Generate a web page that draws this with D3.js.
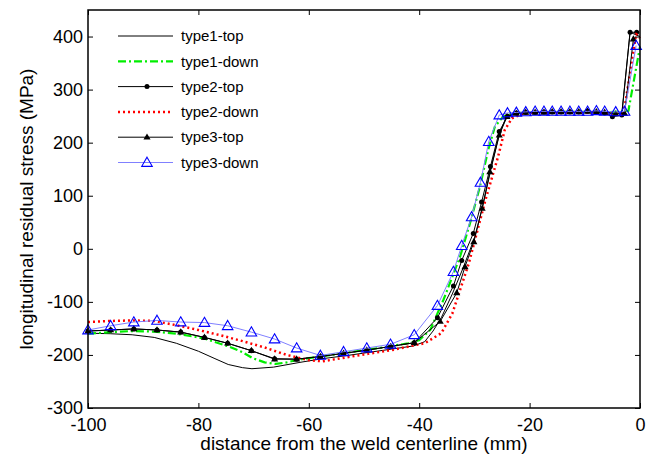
<!DOCTYPE html>
<html><head><meta charset="utf-8">
<script src="https://cdn.jsdelivr.net/npm/d3@7"></script>
<style>body{margin:0;background:#fff}svg{display:block}text{font-family:"Liberation Sans",Arial,Helvetica,sans-serif;fill:#000}</style>
</head><body><svg id="c" width="649" height="457"></svg>
<script>
const xTicks=[-100,-80,-60,-40,-20,0];
const yTicks=[-300,-200,-100,0,100,200,300,400];
const seriesNames=["type1-top","type1-down","type2-top","type2-down","type3-top","type3-down"];

const type1TopX=[-100,-96,-92,-88,-84,-80,-77,-74.6,-72,-70.3,-66.4,-61.6,-57.5,-53,-49,-45,-41,-39,-37.5,-36,-34,-32,-30,-28.5,-27,-25.5,-24.3,-23,-20,-15,-10,-6,-3.3,-1.8,0];
const type1TopY=[-159,-160,-162,-167,-178,-193,-207,-218,-224,-226,-223,-214,-207,-201,-195,-189,-183,-175,-155,-130,-85,-35,20,80,150,215,247,255,257,258,258,257,255,408,400];

const type1DownX=[-100,-96,-92,-88,-84,-80,-78.7,-74.5,-72,-70.2,-68,-66,-64,-61.9,-58,-54,-50,-46,-42,-40,-38,-35.6,-32.6,-30.8,-29,-27.5,-26.3,-24.8,-23,-20,-15,-10,-6,-2.1,0];
const type1DownY=[-160,-157,-155,-156,-160,-167,-170,-184,-195,-206,-214,-217,-214,-209,-203,-197,-191,-185,-178,-172,-153,-96,-15,48,117,186,230,249,255,257,258,258,257,260,381];

const type2TopX=[-100,-95.9,-91.7,-87.5,-83.2,-78.9,-74.7,-70.4,-66.2,-62.2,-57.9,-53.7,-49.5,-45.2,-40.9,-36.7,-33.8,-32.3,-30.2,-28.7,-27.1,-25.5,-24.0,-22.4,-20.7,-19.0,-17.4,-15.9,-14.3,-12.7,-11.1,-9.5,-7.9,-6.4,-5.0,-3.3,-1.8,-0.6];
const type2TopY=[-155,-153,-151,-153,-157,-167,-178,-192,-207,-208,-203,-197,-191,-184,-177,-130,-70,-22,29,88,155,221,250,256,257,257,258,258,258,258,258,259,258,256,249,252,408,408];

const type2DownX=[-100,-96,-92,-88,-84,-80,-76,-72,-68,-64,-60,-57.5,-54,-50,-45,-41,-39,-36,-34,-31,-28,-25.7,-24.5,-23.2,-21,-15,-10,-6,-4,-3.0,-0.7,0];
const type2DownY=[-138,-136,-135,-136,-144,-153,-163,-174,-186,-200,-210,-212,-206,-199,-191,-182,-178,-159,-122,-27,92,174,224,246,256,257,257,256,255,252,405,397];

const type3TopX=[-100,-95.9,-91.7,-87.5,-83.2,-78.9,-74.7,-70.4,-66.2,-62.2,-57.9,-53.7,-49.5,-45.2,-40.9,-36.2,-33.2,-31.7,-30.1,-28.6,-27.2,-25.5,-24.1,-22.4,-20.7,-19.0,-17.4,-15.9,-14.3,-12.7,-11.1,-9.5,-7.9,-6.4,-4.4,-2.8,-1.2];
const type3TopY=[-155,-153,-151,-153,-157,-167,-178,-192,-208,-208,-203,-197,-191,-184,-177,-137,-83,-34,13,76,145,214,249,255,257,257,257,258,258,258,258,259,258,257,254,255,395];

const type3DownX=[-100,-95.9,-91.7,-87.5,-83.2,-78.9,-74.7,-70.4,-66.2,-62.2,-57.9,-53.7,-49.5,-45.2,-40.9,-36.7,-33.8,-32.3,-30.5,-28.9,-27.4,-25.5,-24.0,-22.4,-20.7,-19.0,-17.4,-15.9,-14.3,-12.7,-11.1,-9.5,-7.9,-6.4,-4.4,-2.8,-0.7];
const type3DownY=[-153,-145,-138,-135,-138,-139,-145,-157,-170,-187,-201,-194,-187,-180,-162,-107,-43,6,60,125,202,252,256,257,258,259,259,259,259,259,259,259,260,259,258,259,383];

const svg=d3.select("#c");
const L=88,R=640,T=10,B=408;
const x=d3.scaleLinear([-100,0],[L,R]);
const y=d3.scaleLinear([-300,450],[B,T]);
const TICKFS=18, TITLEFS=19;

const styles=[
 {name:seriesNames[0],xs:type1TopX,ys:type1TopY,color:"#000",w:1,dash:null,marker:null},
 {name:seriesNames[1],xs:type1DownX,ys:type1DownY,color:"#00ee00",w:2.2,dash:"8,3,2,3",marker:null},
 {name:seriesNames[2],xs:type2TopX,ys:type2TopY,color:"#000",w:1,dash:null,marker:"circle"},
 {name:seriesNames[3],xs:type2DownX,ys:type2DownY,color:"#ff0000",w:2.5,dash:"2,3",marker:null},
 {name:seriesNames[4],xs:type3TopX,ys:type3TopY,color:"#000",w:1,dash:null,marker:"tri"},
 {name:seriesNames[5],xs:type3DownX,ys:type3DownY,color:"#8080ff",w:1,dash:null,marker:"otri"}
];

const line=d3.line().x(d=>x(d[0])).y(d=>y(d[1]));
const triPath=d3.symbol().type(d3.symbolTriangle);

function drawMarker(g,m,px,py){
  if(m==="circle") g.append("circle").attr("cx",px).attr("cy",py).attr("r",2.5).attr("fill","#000");
  else if(m==="tri") g.append("path").attr("d",triPath.size(22)()).attr("transform",`translate(${px},${py+0.3})`).attr("fill","#000");
  else if(m==="otri") g.append("path").attr("d",triPath.size(48)()).attr("transform",`translate(${px},${py+0.8})`).attr("fill","none").attr("stroke","#0000ff").attr("stroke-width",1.1);
}

const plot=svg.append("g");
styles.forEach(s=>{
  const data=s.xs.map((v,i)=>[v,s.ys[i]]);
  const g=plot.append("g");
  g.append("path").datum(data).attr("d",line).attr("fill","none").attr("stroke",s.color).attr("stroke-width",s.w).attr("stroke-dasharray",s.dash).attr("stroke-linejoin","round");
  if(s.marker) data.forEach(d=>drawMarker(g,s.marker,x(d[0]),y(d[1])));
});

const fmt=d=>String(d);
const ax=svg.append("g");
ax.append("g").attr("transform",`translate(0,${B})`).call(d3.axisBottom(x).tickValues(xTicks).tickSizeInner(-5).tickSizeOuter(0).tickPadding(10).tickFormat(fmt));
ax.append("g").attr("transform",`translate(0,${T})`).call(d3.axisTop(x).tickValues(xTicks).tickSizeInner(-5).tickSizeOuter(0).tickFormat(""));
ax.append("g").attr("transform",`translate(${L},0)`).call(d3.axisLeft(y).tickValues(yTicks).tickSizeInner(-5).tickSizeOuter(0).tickPadding(5).tickFormat(fmt));
ax.append("g").attr("transform",`translate(${R},0)`).call(d3.axisRight(y).tickValues(yTicks).tickSizeInner(-5).tickSizeOuter(0).tickFormat(""));
ax.selectAll(".domain").remove();
ax.selectAll("line").attr("stroke","#000").attr("stroke-width",1);
ax.selectAll("text").attr("font-size",TICKFS).attr("font-family",null);
ax.append("rect").attr("x",L).attr("y",T).attr("width",R-L).attr("height",B-T).attr("fill","none").attr("stroke","#000").attr("stroke-width",1.5);

svg.append("text").attr("x",(L+R)/2).attr("y",450).attr("text-anchor","middle").attr("font-size",TITLEFS).text("distance from the weld centerline (mm)");
svg.append("text").attr("transform",`translate(33,${(T+B)/2}) rotate(-90)`).attr("text-anchor","middle").attr("font-size",TITLEFS).text("longitudinal residual stress (MPa)");

const lg=svg.append("g");
styles.forEach((s,i)=>{
  const yy=36+i*25.3;
  lg.append("line").attr("x1",118).attr("x2",173).attr("y1",yy).attr("y2",yy).attr("stroke",s.color).attr("stroke-width",s.w).attr("stroke-dasharray",s.dash);
  if(s.marker) drawMarker(lg,s.marker,147,yy);
  lg.append("text").attr("x",181).attr("y",yy).attr("dy","0.35em").attr("font-size",15).text(s.name);
});
</script></body></html>
